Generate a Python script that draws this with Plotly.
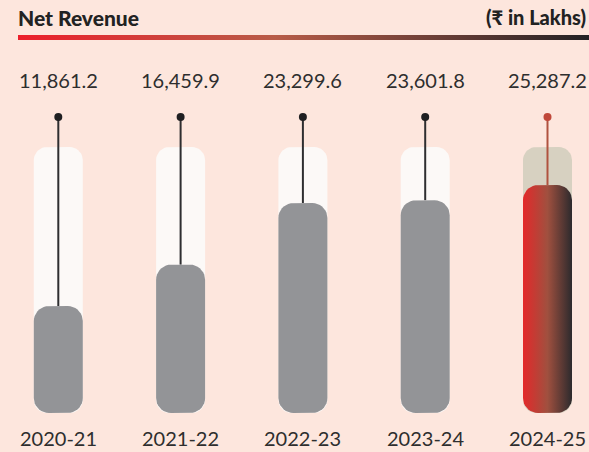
import numpy as np
import plotly.graph_objects as go

# ---- data ----
years = ["2020-21", "2021-22", "2022-23", "2023-24", "2024-25"]
revenue = [11861.2, 16459.9, 23299.6, 23601.8, 25287.2]
value_labels = ["11,861.2", "16,459.9", "23,299.6", "23,601.8", "25,287.2"]
title_text = "Net Revenue"
unit_text = "(₹ in Lakhs)"

# ---- layout constants ----
W, H = 589, 452
BG = "#fde6dd"
FONT = "Lato"
TEXT = "#2e2e2e"
TUBE_MAX = 29500        # height of the background "tube"
STEM_TOP = 32850        # height of lollipop dot
PX_PER_VAL = 9.014 / 1000
BASE_PX = 39            # px from bottom to zero line
X_STEP = 122.3          # px between categories
X0_PX = 58.3            # px of first category centre
HALF_W = 24.5 / X_STEP

y_range = [-BASE_PX / PX_PER_VAL, (H - BASE_PX) / PX_PER_VAL]
x_range = [-X0_PX / X_STEP, (W - X0_PX) / X_STEP]


def rrect(xc, y0, y1, r_px, n=10):
    rx = r_px / X_STEP
    ry = min(r_px / PX_PER_VAL, (y1 - y0) / 2)
    xl, xr = xc - HALF_W, xc + HALF_W
    xs, ys = [], []
    for cx, cy, a0 in [(xr - rx, y1 - ry, 0), (xl + rx, y1 - ry, 90),
                       (xl + rx, y0 + ry, 180), (xr - rx, y0 + ry, 270)]:
        t = np.radians(np.linspace(a0, a0 + 90, n))
        xs += list(cx + rx * np.cos(t))
        ys += list(cy + ry * np.sin(t))
    xs.append(xs[0]); ys.append(ys[0])
    return xs, ys


fig = go.Figure()
last = len(years) - 1

for i, v in enumerate(revenue):
    hl = i == last
    # tube
    xs, ys = rrect(i, 0, TUBE_MAX, 13)
    fig.add_trace(go.Scatter(x=xs, y=ys, mode="lines", fill="toself",
                             fillcolor="#d7d1c1" if hl else "#fcf9f7",
                             line=dict(width=0), hoverinfo="skip", showlegend=False))
    # stem
    stem_col = "#b0523f" if hl else "#2e2e30"
    fig.add_trace(go.Scatter(x=[i, i], y=[v, STEM_TOP], mode="lines",
                             line=dict(color=stem_col, width=2),
                             hoverinfo="skip", showlegend=False))
    fig.add_trace(go.Scatter(x=[i], y=[STEM_TOP], mode="markers",
                             marker=dict(color="#c0483a" if hl else "#1f1f21", size=8),
                             hoverinfo="skip", showlegend=False))
    # value bar
    xs, ys = rrect(i, 0, v, 15)
    if hl:
        fig.add_trace(go.Scatter(x=xs, y=ys, mode="lines", fill="toself",
                                 fillgradient=dict(type="horizontal",
                                                   colorscale=[[0, "#e4292a"], [0.5, "#a0503f"], [1, "#2c2a2d"]]),
                                 line=dict(width=0), hoverinfo="skip", showlegend=False))
    else:
        fig.add_trace(go.Scatter(x=xs, y=ys, mode="lines", fill="toself",
                                 fillcolor="#939497", line=dict(width=0),
                                 hoverinfo="skip", showlegend=False))

# header gradient rule on a pixel overlay axis
fig.add_trace(go.Scatter(x=[18, W, W, 18, 18], y=[35, 35, 40, 40, 35], mode="lines",
                         fill="toself", xaxis="x2", yaxis="y2",
                         fillgradient=dict(type="horizontal",
                                           colorscale=[[0, "#ec1f2b"], [0.45, "#b85c48"], [1, "#232225"]]),
                         line=dict(width=0), hoverinfo="skip", showlegend=False))

annotations = []
for i, (yr, lab) in enumerate(zip(years, value_labels)):
    annotations.append(dict(x=i, y=1 - 80 / H, xref="x", yref="paper", text=lab,
                            showarrow=False, xanchor="center", yanchor="middle",
                            font=dict(family=FONT, size=20, color=TEXT, weight=400)))
    annotations.append(dict(x=i, y=1 - 438 / H, xref="x", yref="paper", text=yr,
                            showarrow=False, xanchor="center", yanchor="middle",
                            font=dict(family=FONT, size=20, color=TEXT, weight=400)))
annotations.append(dict(x=16 / W, y=1 - 17 / H, xref="paper", yref="paper", text=title_text,
                        showarrow=False, xanchor="left", yanchor="middle",
                        font=dict(family=FONT, size=21, color="#222", weight=900)))
annotations.append(dict(x=588 / W, y=1 - 17 / H, xref="paper", yref="paper", text=unit_text,
                        showarrow=False, xanchor="right", yanchor="middle",
                        font=dict(family=FONT, size=20, color="#222", weight=900)))

fig.update_layout(
    width=W, height=H, margin=dict(l=0, r=0, t=0, b=0),
    paper_bgcolor=BG, plot_bgcolor=BG,
    xaxis=dict(range=x_range, visible=False, fixedrange=True),
    yaxis=dict(range=y_range, visible=False, fixedrange=True),
    xaxis2=dict(range=[0, W], visible=False, overlaying="x", anchor="y2", fixedrange=True),
    yaxis2=dict(range=[H, 0], visible=False, overlaying="y", anchor="x2", fixedrange=True),
    annotations=annotations,
)

fig.write_html("out.html", config={"displayModeBar": False, "staticPlot": True},
               post_script="document.body.style.margin='0';document.body.style.overflow='hidden';")
